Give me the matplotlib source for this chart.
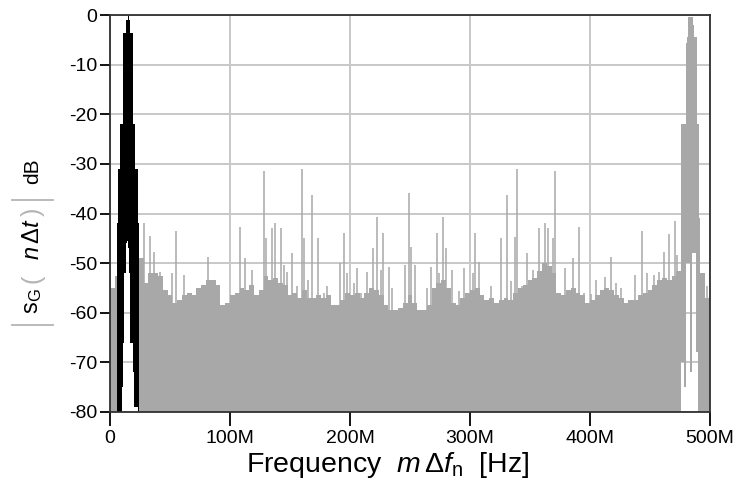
import matplotlib
matplotlib.use("Agg")
import matplotlib.pyplot as plt
from matplotlib.lines import Line2D
import numpy as np

# noise floor, 4 MHz bins starting at 0 MHz (dB)
floor_db = [
    -55, -52.5, -80, -80, -80, -80, -49, -54, -52, -52,
    -52.5, -55.5, -56.5, -58, -57.5, -56.5, -56, -56.5, -55, -54.5,
    -53.5, -53.5, -54.5, -58.5, -58, -56.5, -56, -55, -55.5, -54.5,
    -56.5, -55.5, -52.5, -53.5, -53, -54, -54.5, -56.5, -56, -57,
    -55.5, -57, -57, -56.5, -57, -56.5, -58.5, -58.5, -57.5, -56,
    -56.5, -56, -57, -56, -55, -55.5, -56.5, -58.5, -59.5, -59.5,
    -59, -58, -56.5, -58, -59.5, -59.5, -58.5, -55, -54, -53.5,
    -55, -58, -58.5, -57, -56, -55.5, -55, -56.5, -57.5, -57,
    -58, -57.5, -57, -57.5, -56, -55, -54.5, -53.5, -53, -51.5,
    -50, -50.5, -52, -56, -56.5, -55.5, -55, -56, -56.5, -58,
    -57.5, -56.5, -55.5, -55, -55.5, -56.5, -57, -58, -57.5, -57.5,
    -56.5, -56, -55.5, -54.5, -53.5, -53, -53.5, -52.5, -51.5, -80,
    -80, -80, -80, -52, -57,
]
floor_step = 4

# single-line spurs in the gray spectrum (MHz, dB)
spur_f = [
    28.3, 33.5, 36.5, 42, 51.8, 55, 61.5, 74, 81.5, 86.5, 108.2, 112.9, 118.4,
    128.3, 129.7, 135.3, 137.2, 142.2, 145, 147.2, 152, 156, 160.3, 161.7, 165,
    168.6, 173.3, 178.3, 181, 191.7, 195, 197.2, 203.3, 205.6, 208.9, 214.4,
    218.8, 222.1, 225.7, 227.1, 232.1, 235.4, 245.7, 248.8, 250.7, 254, 263.8,
    267.4, 272.4, 274.3, 277.1, 280.4, 285.4, 291, 294.6, 302.7, 304.3, 307.7,
    317.6, 325.9, 330.9, 334.2, 337.6, 339.2, 343.4, 347.3, 352.8, 357.3, 362.6,
    364.8, 369, 370.9, 379.2, 385.6, 391.2, 395.3, 400.9, 405,
    412.5, 417.2, 421.4, 425.6, 437.5, 443.6, 447.8, 453.3, 457.5, 461.7, 465.8,
    470.8, 472.8, 497.8,
]
spur_db = [
    -42, -44.5, -47.7, -51.7, -52, -43.6, -52.3, -55, -48.7, -53.7, -42.7, -49, -51.3,
    -31.5, -45, -43, -42, -43, -50.3, -51.7, -48, -54.7, -31.1, -45, -53.3,
    -36.3, -45, -56, -54.7, -50, -44, -52, -54, -51, -56, -51.7,
    -47, -40.7, -51.3, -44, -50.7, -55, -50.3, -35.8, -46.7, -50.3, -55,
    -50.7, -44, -52, -40.7, -47, -51.3, -55.7, -51, -52, -44, -49.7,
    -54.7, -45, -36.3, -53.7, -44.7, -31.1, -54.7, -48, -51.3, -43, -42,
    -43, -45, -31.5, -51, -49, -42.7, -56, -56.3, -53.3,
    -52.7, -48.7, -54, -55, -52.3, -43.5, -52, -52.3, -51.7, -47.7, -44.2,
    -41.5, -48.3, -54.7,
]

# image of the signal near 485 MHz (gray), 1 MHz columns
image_f = [476, 477, 478, 479, 480, 481, 482, 483, 484, 485, 486, 487, 488, 489, 490, 491]
image_top = [-22, -22, -22, -22, -5.6, -4.4, -0.5, -0.5, -0.5, -0.5, -2, -4.4, -4.4, -22, -22, -41]
image_bot = [-70, -70, -75, -75, -50, -50, -50, -72, -72, -48, -48, -48, -68, -68, -80, -80]

# signal band near 15 MHz (black), 1 MHz columns
sig_f = [6, 7, 8, 9, 10, 11, 12, 13, 14, 15, 16, 17, 18, 19, 20, 21, 22, 23]
sig_top = [-42, -31, -22, -22, -22, -3.7, -3.7, -1, -1, -0.3, -1, -3.7, -3.7, -22, -22, -31, -31, -42]
sig_bot = [-80, -80, -80, -80, -75, -66, -52, -46, -45.5, -47, -52, -66, -66, -72, -79, -79, -79, -80]

x_ticks = [0, 100, 200, 300, 400, 500]
x_labels = ["0", "100M", "200M", "300M", "400M", "500M"]
y_ticks = [0, -10, -20, -30, -40, -50, -60, -70, -80]
y_labels = ["0", "-10", "-20", "-30", "-40", "-50", "-60", "-70", "-80"]

GRAY = "#a8a8a8"
LIGHT = "#b4b4b4"

plt.rcParams["font.family"] = ["Liberation Sans", "DejaVu Sans"]
plt.rcParams["mathtext.fontset"] = "custom"
plt.rcParams["mathtext.rm"] = "Liberation Sans"
plt.rcParams["mathtext.it"] = "Liberation Sans:italic"


def steps(start, vals, width):
    x = np.append(np.asarray(start, float), start[-1] + width)
    y = np.append(np.asarray(vals, float), vals[-1])
    return x, y


W, H = 734, 491
fig = plt.figure(figsize=(W / 100, H / 100), dpi=100)
ax = fig.add_axes([110 / W, 1 - 412 / H, 600 / W, 397 / H])

# gray spectrum
fx = np.arange(len(floor_db)) * floor_step
x, y = steps(fx, floor_db, floor_step)
ax.fill_between(x, -80, y, step="post", color=GRAY, linewidth=0)
x, top = steps(image_f, image_top, 1)
_, bot = steps(image_f, image_bot, 1)
ax.fill_between(x, bot, top, step="post", color=GRAY, linewidth=0)
ax.vlines(spur_f, -80, spur_db, color=GRAY, linewidth=1.1)

# black signal
x, top = steps(sig_f, sig_top, 1)
_, bot = steps(sig_f, sig_bot, 1)
ax.fill_between(x, bot, top, step="post", color="black", linewidth=0)

ax.set_xlim(0, 500)
ax.set_ylim(-80, 0)
ax.set_xticks(x_ticks)
ax.set_xticklabels(x_labels)
ax.set_yticks(y_ticks)
ax.set_yticklabels(y_labels)
ax.tick_params(axis="x", direction="out", length=10, width=1.3, pad=3, labelsize=14)
ax.tick_params(axis="y", direction="out", length=7, width=1.3, pad=2, labelsize=14)

ax.grid(True, color="#c8c8c8", linewidth=1.4)
ax.set_axisbelow(True)
for s in ax.spines.values():
    s.set_color("#303030")
    s.set_linewidth(1.3)

fig.text(388 / W, 1 - 465 / H, r"Frequency  $m\,\Delta f_{\mathrm{n}}$  [Hz]",
         ha="center", va="center", fontsize=20.5)

# y label built from pieces: |s_G ( n dt )| dB, bars and brackets light gray
ylab_x = 33 / W
fig.text(ylab_x, 1 - 301 / H, r"$\mathrm{s}_{\mathrm{G}}$", rotation=90,
         ha="center", va="center", fontsize=17)
fig.text(ylab_x, 1 - 279 / H, "(", rotation=90, ha="center", va="center",
         fontsize=18, color=LIGHT)
fig.text(ylab_x, 1 - 239 / H, r"$n\,\Delta t$", rotation=90,
         ha="center", va="center", fontsize=17)
fig.text(ylab_x, 1 - 212 / H, ")", rotation=90, ha="center", va="center",
         fontsize=18, color=LIGHT)
fig.text(ylab_x, 1 - 171 / H, "dB", rotation=90, ha="center", va="center",
         fontsize=15)
for yb in (325, 200):
    fig.add_artist(Line2D([12 / W, 53 / W], [1 - yb / H, 1 - yb / H],
                          color=LIGHT, linewidth=1.3))

fig.savefig("out.png", dpi=100)
